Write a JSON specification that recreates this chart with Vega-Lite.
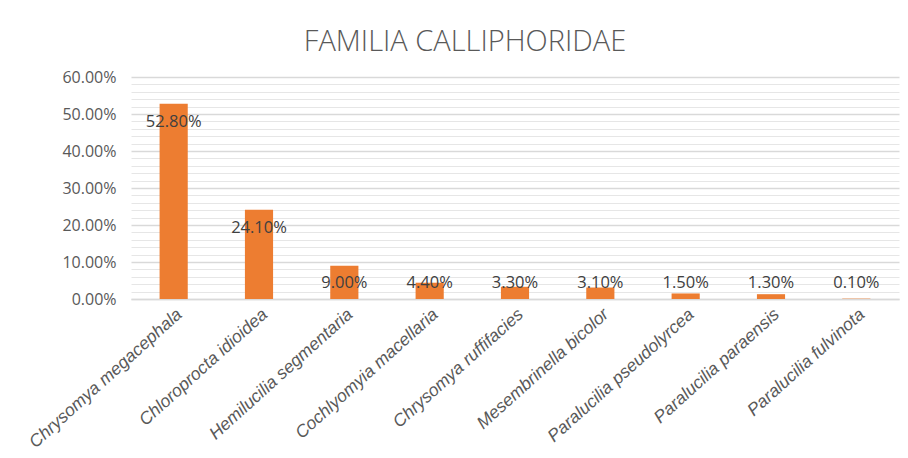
{
  "$schema": "https://vega.github.io/schema/vega-lite/v6.json",
  "width": 768,
  "height": 222,
  "autosize": {"type": "none"},
  "padding": {"left": 131, "top": 77, "right": 9, "bottom": 159},
  "background": "white",
  "title": {
    "text": "FAMILIA CALLIPHORIDAE",
    "font": "Open Sans",
    "fontSize": 29,
    "fontWeight": 300,
    "color": "#595959",
    "anchor": "middle",
    "offset": 12,
    "dx": -50
  },
  "data": {
    "values": [
      {"species": "Chrysomya megacephala", "value": 0.528},
      {"species": "Chloroprocta idioidea", "value": 0.241},
      {"species": "Hemilucilia segmentaria", "value": 0.09},
      {"species": "Cochlyomyia macellaria", "value": 0.044},
      {"species": "Chrysomya ruffifacies", "value": 0.033},
      {"species": "Mesembrinella bicolor", "value": 0.031},
      {"species": "Paralucilia pseudolyrcea", "value": 0.015},
      {"species": "Paralucilia paraensis", "value": 0.013},
      {"species": "Paralucilia fulvinota", "value": 0.001}
    ]
  },
  "transform": [{"calculate": "max(datum.value, 0.092)", "as": "labelY"}],
  "encoding": {
    "x": {
      "field": "species",
      "type": "nominal",
      "sort": null,
      "scale": {"paddingInner": 0.67, "paddingOuter": 0.335},
      "axis": {
        "title": null,
        "labelAngle": -42,
        "labelFont": "Liberation Sans",
        "labelFontStyle": "italic",
        "labelFontSize": 17.5,
        "labelColor": "#595959",
        "labelPadding": 6,
        "labelLimit": 0,
        "ticks": false,
        "domainColor": "#d9d9d9",
        "domainWidth": 1.5
      }
    }
  },
  "layer": [
    {
      "mark": {"type": "bar", "color": "#ED7D31"},
      "encoding": {
        "y": {
          "field": "value",
          "type": "quantitative",
          "scale": {"domain": [0, 0.6]},
          "axis": {
            "title": null,
            "values": [0, 0.1, 0.2, 0.3, 0.4, 0.5, 0.6],
            "format": ".2%",
            "labelFont": "Open Sans",
            "labelFontSize": 16,
            "labelColor": "#595959",
            "labelPadding": 15,
            "ticks": false,
            "domain": false,
            "grid": true,
            "gridColor": "#d9d9d9",
            "gridWidth": 1.3
          }
        }
      }
    },
    {
      "mark": {"type": "text", "font": "Open Sans", "fontSize": 16.5, "color": "#404040", "baseline": "middle", "dy": 18},
      "encoding": {
        "y": {
          "field": "labelY",
          "type": "quantitative",
          "axis": {
            "orient": "right",
            "title": null,
            "values": [0.02, 0.04, 0.06, 0.08, 0.12, 0.14, 0.16, 0.18, 0.22, 0.24, 0.26, 0.28, 0.32, 0.34, 0.36, 0.38, 0.42, 0.44, 0.46, 0.48, 0.52, 0.54, 0.56, 0.58],
            "labels": false,
            "ticks": false,
            "domain": false,
            "grid": true,
            "gridColor": "#e6e6e6",
            "gridWidth": 1
          }
        },
        "text": {"field": "value", "type": "quantitative", "format": ".2%"}
      }
    }
  ],
  "resolve": {"axis": {"y": "independent"}},
  "config": {"view": {"stroke": null}}
}
